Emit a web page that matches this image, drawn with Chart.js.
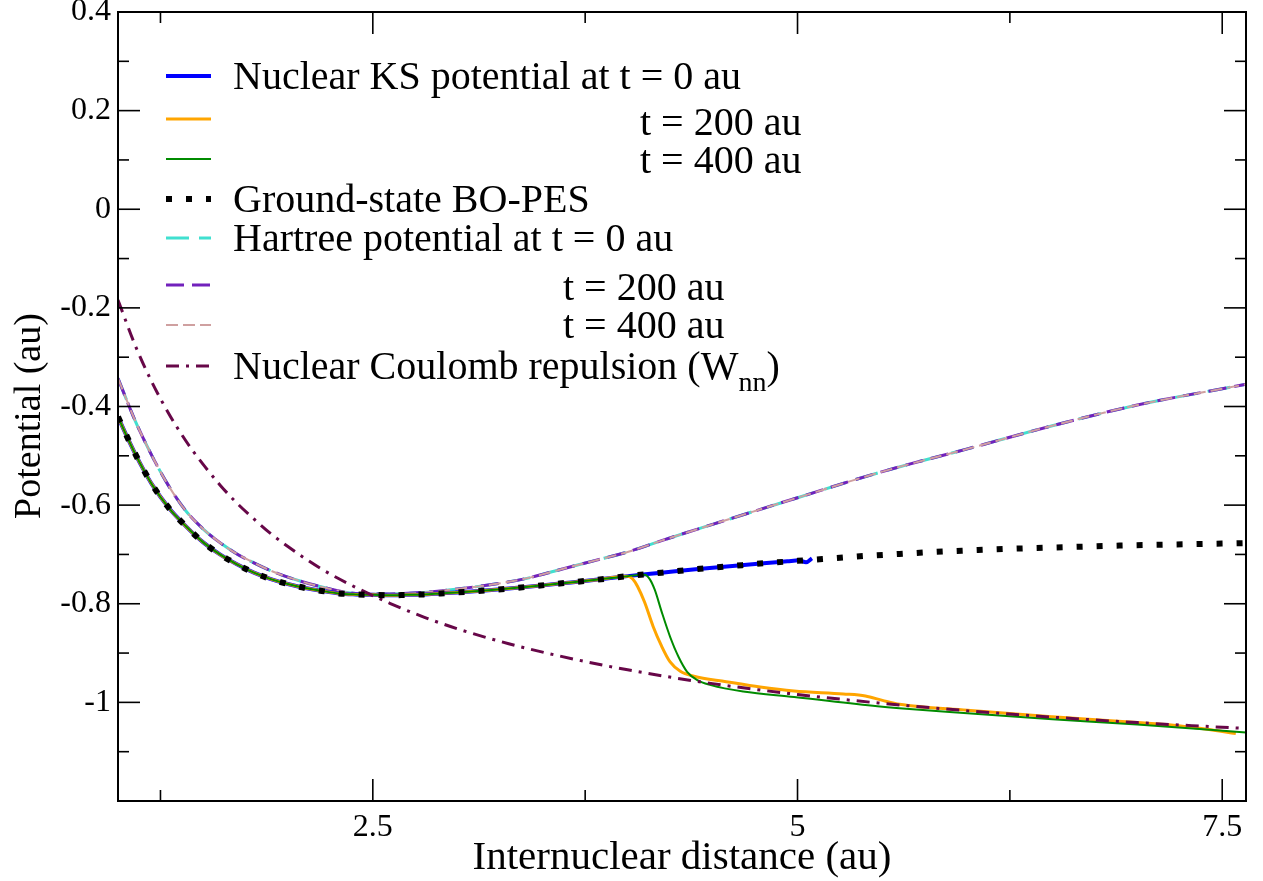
<!DOCTYPE html>
<html>
<head>
<meta charset="utf-8">
<title>Nuclear KS potential</title>
<script src="https://cdn.jsdelivr.net/npm/chart.js@4.4.1/dist/chart.umd.min.js"></script>
<style>
  html, body { margin: 0; padding: 0; background: #fff; }
  canvas { display: block; }
</style>
</head>
<body>
<canvas id="chart" width="1263" height="881"></canvas>
<script>
// internuclear distance grid (au) and potentials (au)
const boX = [1.0, 1.05, 1.1, 1.15, 1.2, 1.3, 1.4, 1.5, 1.6, 1.7, 1.8, 1.9, 2.0, 2.1, 2.2, 2.3, 2.4, 2.5, 2.6, 2.7, 2.8, 2.9, 3.0, 3.2, 3.4, 3.6, 3.8, 4.0, 4.2, 4.4, 4.6, 4.8, 5.0, 5.2, 5.4, 5.6, 5.8, 6.0, 6.3, 6.6, 6.9, 7.2, 7.5, 7.64];
const boY = [-0.421, -0.459, -0.495, -0.528, -0.558, -0.606, -0.643, -0.675, -0.700, -0.720, -0.737, -0.750, -0.760, -0.768, -0.774, -0.779, -0.781, -0.782, -0.783, -0.782, -0.781, -0.779, -0.777, -0.772, -0.766, -0.759, -0.752, -0.744, -0.737, -0.730, -0.724, -0.718, -0.713, -0.708, -0.703, -0.699, -0.695, -0.692, -0.688, -0.685, -0.682, -0.680, -0.678, -0.677];

const ks0X = [1.0, 1.05, 1.1, 1.15, 1.2, 1.3, 1.4, 1.5, 1.6, 1.7, 1.8, 1.9, 2.0, 2.1, 2.2, 2.3, 2.4, 2.5, 2.6, 2.7, 2.8, 2.9, 3.0, 3.2, 3.4, 3.6, 3.8, 4.0, 4.2, 4.4, 4.6, 4.8, 4.94, 5.01, 5.05, 5.085];
const ks0Y = [-0.421, -0.459, -0.495, -0.528, -0.558, -0.606, -0.643, -0.675, -0.700, -0.720, -0.737, -0.750, -0.760, -0.768, -0.774, -0.779, -0.781, -0.782, -0.783, -0.782, -0.781, -0.779, -0.777, -0.772, -0.766, -0.759, -0.752, -0.744, -0.737, -0.730, -0.724, -0.718, -0.714, -0.712, -0.716, -0.708];

const ks200X = [1.0, 1.05, 1.1, 1.15, 1.2, 1.3, 1.4, 1.5, 1.6, 1.7, 1.8, 1.9, 2.0, 2.1, 2.2, 2.3, 2.4, 2.5, 2.6, 2.7, 2.8, 2.9, 3.0, 3.2, 3.4, 3.6, 3.8, 4.0, 4.03, 4.06, 4.1, 4.15, 4.2, 4.25, 4.31, 4.39, 4.58, 4.78, 4.98, 5.27, 5.4, 5.5, 5.6, 6.0, 6.5, 7.0, 7.2, 7.4, 7.58];
const ks200Y = [-0.421, -0.459, -0.495, -0.528, -0.558, -0.606, -0.643, -0.675, -0.700, -0.720, -0.737, -0.750, -0.760, -0.768, -0.774, -0.779, -0.781, -0.782, -0.783, -0.782, -0.781, -0.779, -0.777, -0.772, -0.766, -0.759, -0.752, -0.744, -0.750, -0.766, -0.797, -0.846, -0.886, -0.918, -0.937, -0.947, -0.958, -0.969, -0.977, -0.983, -0.987, -0.996, -1.004, -1.016, -1.029, -1.041, -1.046, -1.054, -1.063];

const ks400X = [1.0, 1.05, 1.1, 1.15, 1.2, 1.3, 1.4, 1.5, 1.6, 1.7, 1.8, 1.9, 2.0, 2.1, 2.2, 2.3, 2.4, 2.5, 2.6, 2.7, 2.8, 2.9, 3.0, 3.2, 3.4, 3.6, 3.8, 4.0, 4.1, 4.13, 4.16, 4.2, 4.25, 4.3, 4.35, 4.41, 4.49, 4.68, 4.98, 5.47, 5.6, 6.0, 6.5, 7.0, 7.64];
const ks400Y = [-0.421, -0.459, -0.495, -0.528, -0.558, -0.606, -0.643, -0.675, -0.700, -0.720, -0.737, -0.750, -0.760, -0.768, -0.774, -0.779, -0.781, -0.782, -0.783, -0.782, -0.781, -0.779, -0.777, -0.772, -0.766, -0.759, -0.752, -0.744, -0.741, -0.750, -0.772, -0.816, -0.867, -0.908, -0.938, -0.955, -0.965, -0.978, -0.989, -1.008, -1.012, -1.022, -1.034, -1.045, -1.061];

const hartreeX = [1.0, 1.1, 1.2, 1.3, 1.4, 1.5, 1.6, 1.7, 1.8, 1.9, 2.0, 2.2, 2.4, 2.6, 2.8, 3.0, 3.2, 3.4, 3.6, 3.8, 4.0, 4.2, 4.5, 5.0, 5.5, 6.0, 6.5, 7.0, 7.64];
const hartreeY = [-0.343, -0.428, -0.500, -0.562, -0.612, -0.648, -0.676, -0.699, -0.717, -0.733, -0.746, -0.766, -0.779, -0.780, -0.777, -0.770, -0.761, -0.749, -0.731, -0.713, -0.695, -0.672, -0.639, -0.585, -0.532, -0.486, -0.439, -0.397, -0.355];

const wnnX = [1.0, 1.1, 1.2, 1.3, 1.4, 1.5, 1.6, 1.7, 1.8, 1.9, 2.0, 2.2, 2.4, 2.6, 2.8, 3.0, 3.3, 3.6, 4.0, 4.5, 5.0, 5.5, 6.0, 6.5, 7.0, 7.64];
const wnnY = [-0.184, -0.275, -0.351, -0.415, -0.470, -0.517, -0.559, -0.596, -0.628, -0.658, -0.684, -0.730, -0.767, -0.799, -0.827, -0.851, -0.881, -0.906, -0.934, -0.962, -0.984, -1.002, -1.017, -1.030, -1.041, -1.053];

const xMajor = [2.5, 5, 7.5];
const xMinor = [1.25, 3.75, 6.25];
const yMajor = [0.4, 0.2, 0, -0.2, -0.4, -0.6, -0.8, -1];
const yMinor = [0.3, 0.1, -0.1, -0.3, -0.5, -0.7, -0.9, -1.1];

const serif = '"Liberation Serif", "Times New Roman", serif';

function pts(xs, ys) {
  return xs.map((x, i) => ({ x: x, y: ys[i] }));
}

function line(ctx, x1, y1, x2, y2) {
  ctx.beginPath();
  ctx.moveTo(x1, y1);
  ctx.lineTo(x2, y2);
  ctx.stroke();
}

const datasets = [
  { label: 'KS t=0', data: pts(ks0X, ks0Y), borderColor: '#0000ff', borderWidth: 4, order: 4 },
  { label: 'KS t=200', data: pts(ks200X, ks200Y), borderColor: '#ffa500', borderWidth: 3, order: 3 },
  { label: 'KS t=400', data: pts(ks400X, ks400Y), borderColor: '#008b00', borderWidth: 2, order: 2 },
  { label: 'BO-PES', data: pts(boX, boY), borderColor: '#000000', borderWidth: 6, borderDash: [6, 14], order: 0 },
  { label: 'Hartree t=0', data: pts(hartreeX, hartreeY), borderColor: '#40e0d0', borderWidth: 3, borderDash: [23, 10], order: 7 },
  { label: 'Hartree t=200', data: pts(hartreeX, hartreeY), borderColor: '#7221bc', borderWidth: 3, borderDash: [18, 8], order: 6 },
  { label: 'Hartree t=400', data: pts(hartreeX, hartreeY), borderColor: '#cfa0a0', borderWidth: 2, borderDash: [12, 5], order: 5 },
  { label: 'Wnn', data: pts(wnnX, wnnY), borderColor: '#670748', borderWidth: 3, borderDash: [13, 7, 3, 7], order: 1 }
];
datasets.forEach(d => {
  d.pointRadius = 0;
  d.fill = false;
  d.cubicInterpolationMode = 'monotone';
  d.borderCapStyle = 'butt';
});

// legend rows: dataset index, sample line y, text, text x, text y
const legendRows = [
  { ds: 0, ly: 76, text: 'Nuclear KS potential at t = 0 au', tx: 233, ty: 76 },
  { ds: 1, ly: 119, text: 't = 200 au', tx: 640, ty: 122 },
  { ds: 2, ly: 159, text: 't = 400 au', tx: 640, ty: 160 },
  { ds: 3, ly: 199, text: 'Ground-state BO-PES', tx: 233, ty: 199 },
  { ds: 4, ly: 238, text: 'Hartree potential at t = 0 au', tx: 233, ty: 238 },
  { ds: 5, ly: 285, text: 't = 200 au', tx: 563, ty: 287 },
  { ds: 6, ly: 325, text: 't = 400 au', tx: 563, ty: 325 },
  { ds: 7, ly: 366, text: 'Nuclear Coulomb repulsion (W', tx: 233, ty: 366, sub: 'nn' }
];

const framePlugin = {
  id: 'frame',
  afterDraw(chart) {
    const ctx = chart.ctx;
    const a = chart.chartArea;
    const xs = chart.scales.x, ys = chart.scales.y;
    ctx.save();
    ctx.strokeStyle = '#000';
    ctx.fillStyle = '#000';
    ctx.lineWidth = 2;
    ctx.strokeRect(a.left, a.top, a.right - a.left, a.bottom - a.top);

    // inward ticks on all four sides
    ctx.lineWidth = 1.6;
    xMajor.forEach(v => {
      const p = xs.getPixelForValue(v);
      line(ctx, p, a.bottom, p, a.bottom - 22);
      line(ctx, p, a.top, p, a.top + 22);
    });
    xMinor.forEach(v => {
      const p = xs.getPixelForValue(v);
      line(ctx, p, a.bottom, p, a.bottom - 11);
      line(ctx, p, a.top, p, a.top + 11);
    });
    yMajor.forEach(v => {
      const p = ys.getPixelForValue(v);
      line(ctx, a.left, p, a.left + 22, p);
      line(ctx, a.right, p, a.right - 22, p);
    });
    yMinor.forEach(v => {
      const p = ys.getPixelForValue(v);
      line(ctx, a.left, p, a.left + 11, p);
      line(ctx, a.right, p, a.right - 11, p);
    });

    // tick labels
    ctx.font = '32px ' + serif;
    ctx.textAlign = 'right';
    ctx.textBaseline = 'middle';
    yMajor.forEach(v => ctx.fillText(String(v), a.left - 7, ys.getPixelForValue(v)));
    ctx.textAlign = 'center';
    ctx.textBaseline = 'top';
    xMajor.forEach(v => ctx.fillText(String(v), xs.getPixelForValue(v), a.bottom + 11));

    // axis titles
    ctx.textBaseline = 'middle';
    ctx.font = '41px ' + serif;
    ctx.fillText('Internuclear distance (au)', 682, 858);
    ctx.font = '38px ' + serif;
    ctx.save();
    ctx.translate(30, 416);
    ctx.rotate(-Math.PI / 2);
    ctx.fillText('Potential (au)', 0, 0);
    ctx.restore();

    // legend
    ctx.font = '40px ' + serif;
    ctx.textAlign = 'left';
    ctx.textBaseline = 'alphabetic';
    legendRows.forEach(r => {
      const ds = chart.data.datasets[r.ds];
      ctx.save();
      ctx.strokeStyle = ds.borderColor;
      ctx.lineWidth = ds.borderWidth;
      ctx.setLineDash(ds.borderDash || []);
      ctx.lineCap = 'butt';
      line(ctx, 166, r.ly, 211, r.ly);
      ctx.restore();
      ctx.fillText(r.text, r.tx, r.ty + 13);
      if (r.sub) {
        const w = ctx.measureText(r.text).width;
        ctx.font = '28px ' + serif;
        ctx.fillText(r.sub, r.tx + w, r.ty + 25);
        const ws = ctx.measureText(r.sub).width;
        ctx.font = '40px ' + serif;
        ctx.fillText(')', r.tx + w + ws, r.ty + 13);
      }
    });
    ctx.restore();
  }
};

new Chart(document.getElementById('chart'), {
  type: 'line',
  data: { datasets: datasets },
  options: {
    responsive: false,
    animation: false,
    layout: { padding: { left: 118, top: 12, right: 17, bottom: 80 } },
    plugins: { legend: { display: false }, tooltip: { enabled: false } },
    scales: {
      x: { type: 'linear', min: 1.0, max: 7.64, display: false },
      y: { type: 'linear', min: -1.2, max: 0.4, display: false }
    }
  },
  plugins: [framePlugin]
});
</script>
</body>
</html>
